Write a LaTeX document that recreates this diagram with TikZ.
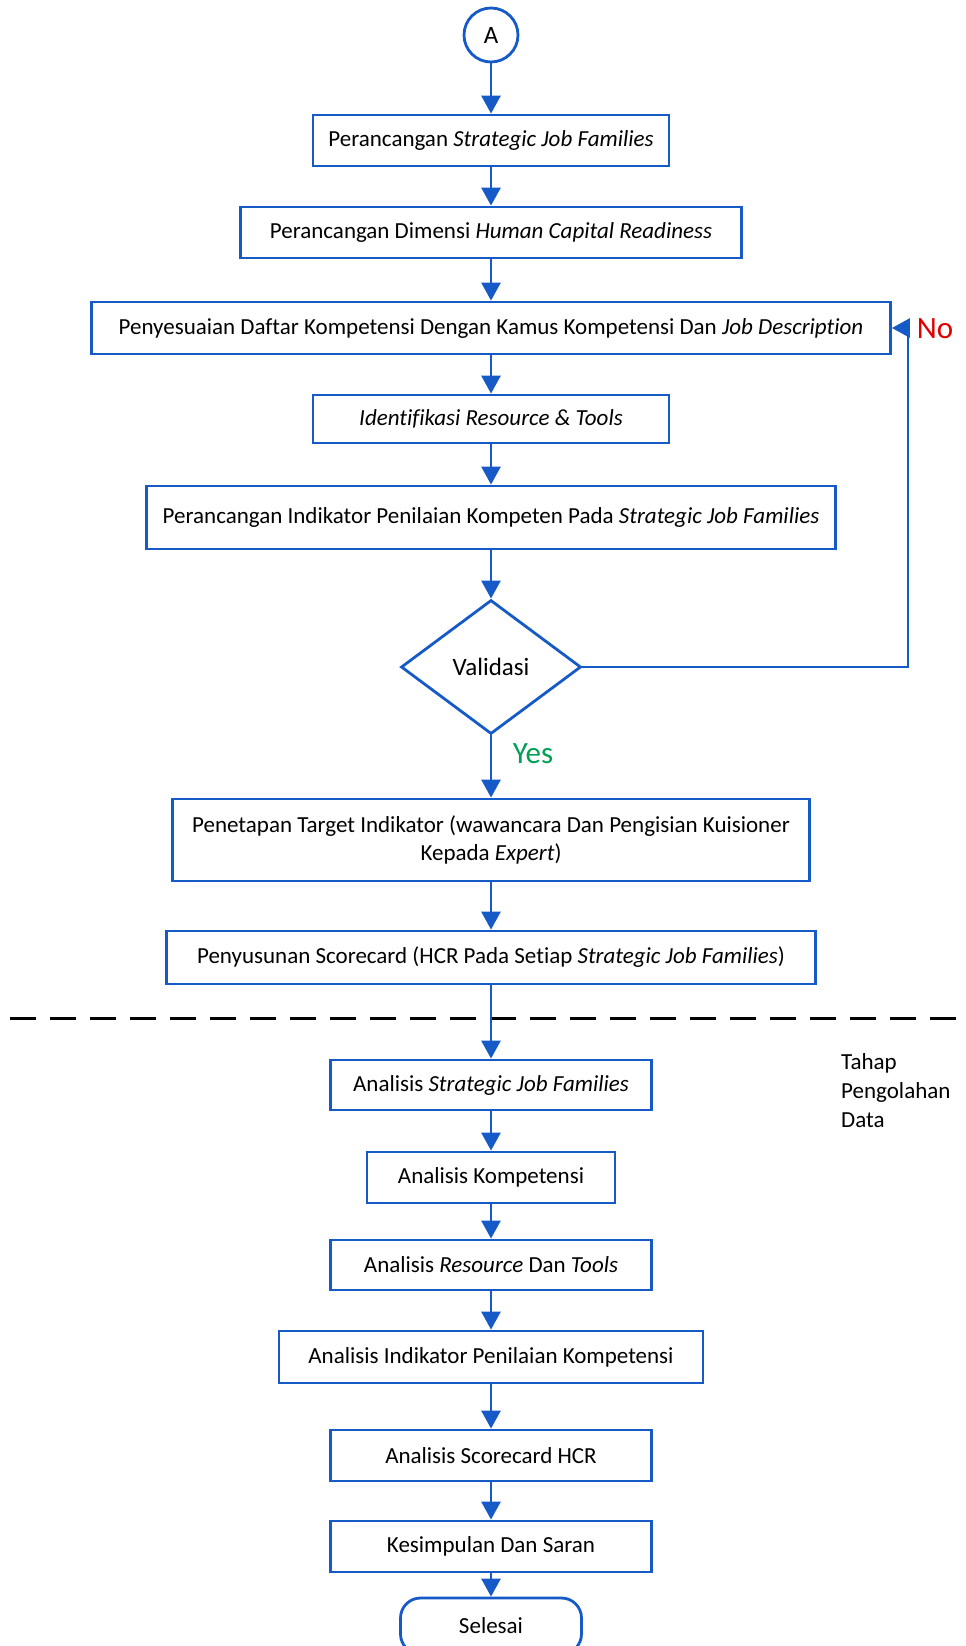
\documentclass[tikz,border=0pt]{standalone}
\usepackage{fontspec}
\setmainfont{Carlito}[Ligatures={TeX,NoCommon}]
\usetikzlibrary{shapes.geometric,arrows.meta}
\definecolor{flowblue}{RGB}{22,90,200}
\definecolor{noRed}{RGB}{225,0,0}
\definecolor{yesGreen}{RGB}{0,160,85}
\tikzset{
  boxtext/.style={font=\fontsize{23}{28.5}\selectfont},
  procbox/.style={draw=flowblue, line width=2.8pt, fill=white, inner sep=0pt, boxtext, align=center},
  arr/.style={draw=flowblue, line width=2.8pt, -{Triangle[length=18pt,width=19pt]}},
  label/.style={font=\fontsize{31}{36}\selectfont, inner sep=0pt}
}
\begin{document}
\begin{tikzpicture}[x=1pt,y=-1pt]
\useasboundingbox (0,0) rectangle (966,1646);
\begin{scope}
\clip (0,0) rectangle (966,1646);

% section separator
\coordinate (dl) at (10,1018);
\coordinate (dr) at (972,1018);
\draw[black, line width=3pt, dash pattern=on 26pt off 14pt] (dl) -- (dr);

% nodes
\node[procbox, circle, minimum size=54pt, font=\fontsize{25}{30}\selectfont] (A) at (491,35) {A};
\node[procbox, minimum width=356pt, minimum height=51pt] (B1) at (491,140.5) {Perancangan \textit{Strategic Job Families}};
\node[procbox, minimum width=501pt, minimum height=51pt] (B2) at (491,232.5) {Perancangan Dimensi \textit{Human Capital Readiness}};
\node[procbox, minimum width=799pt, minimum height=52pt] (B3) at (491,328) {Penyesuaian Daftar Kompetensi Dengan Kamus Kompetensi Dan \textit{Job Description}};
\node[procbox, minimum width=356pt, minimum height=48pt] (B4) at (491,419) {\textit{Identifikasi Resource \& Tools}};
\node[procbox, minimum width=689pt, minimum height=63pt] (B5) at (491,517.5) {Perancangan Indikator Penilaian Kompeten Pada \textit{Strategic Job Families}};
\node[procbox, diamond, minimum width=180pt, minimum height=134pt, font=\fontsize{25}{30}\selectfont] (D) at (491,667) {Validasi};
\node[procbox, minimum width=637pt, minimum height=82pt] (B6) at (491,840) {Penetapan Target Indikator (wawancara Dan Pengisian Kuisioner\\Kepada \textit{Expert})};
\node[procbox, minimum width=649pt, minimum height=53pt] (B7) at (491,957.5) {Penyusunan Scorecard (HCR Pada Setiap \textit{Strategic Job Families})};
\node[procbox, minimum width=321pt, minimum height=50pt] (B8) at (491,1085) {Analisis \textit{Strategic Job Families}};
\node[procbox, minimum width=248pt, minimum height=51pt] (B9) at (491,1177.5) {Analisis Kompetensi};
\node[procbox, minimum width=321pt, minimum height=50pt] (B10) at (491,1265) {Analisis \textit{Resource} Dan \textit{Tools}};
\node[procbox, minimum width=424pt, minimum height=52pt] (B11) at (491,1357) {Analisis Indikator Penilaian Kompetensi};
\node[procbox, minimum width=321pt, minimum height=51pt] (B12) at (491,1455.5) {Analisis Scorecard HCR};
\node[procbox, minimum width=321pt, minimum height=51pt] (B13) at (491,1546.5) {Kesimpulan Dan Saran};
\node[procbox, rounded corners=20pt, minimum width=181pt, minimum height=56pt] (E) at (491,1626) {Selesai};

% side labels
\node[align=left, anchor=west, inner sep=0pt, font=\fontsize{23}{29}\selectfont] (T) at (841,1091) {Tahap\\Pengolahan\\Data};
\node[label, text=noRed] (no) at (935,329) {No};
\node[label, text=yesGreen] (yes) at (533,754) {Yes};

% connectors
\draw[arr] (A) -- (B1);
\draw[arr] (B1) -- (B2);
\draw[arr] (B2) -- (B3);
\draw[arr] (B3) -- (B4);
\draw[arr] (B4) -- (B5);
\draw[arr] (B5) -- (D);
\draw[arr] (D) -- (B6);
\draw[arr] (B6) -- (B7);
\draw[arr] (B7) -- (B8);
\draw[arr] (B8) -- (B9);
\draw[arr] (B9) -- (B10);
\draw[arr] (B10) -- (B11);
\draw[arr] (B11) -- (B12);
\draw[arr] (B12) -- (B13);
\draw[arr] (B13) -- (E);
\coordinate (loop) at (908,328);
\draw[arr] (D.east) -| (loop) -- (B3.east);
\end{scope}
\end{tikzpicture}
\end{document}
